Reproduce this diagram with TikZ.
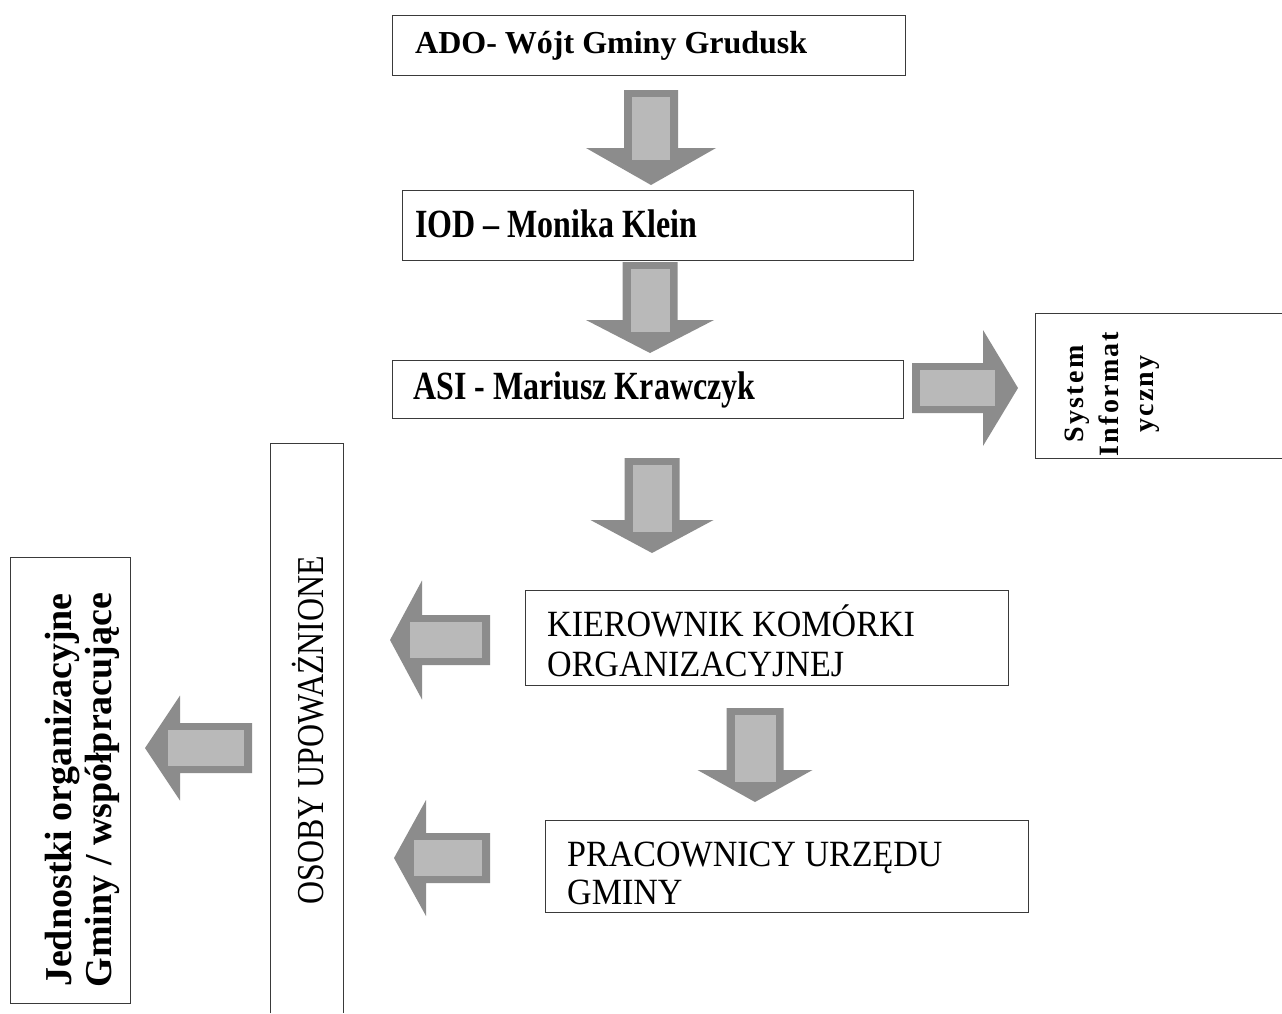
\documentclass[tikz,border=0pt]{standalone}
\usepackage{fontspec}
\setmainfont{Liberation Serif}
\newfontfamily\condbold[FakeStretch=0.8]{Liberation Serif Bold}
\newfontfamily\condreg[FakeStretch=0.92]{Liberation Serif}
\newfontfamily\condosoby[FakeStretch=0.84]{Liberation Serif}
\newfontfamily\spacedbold[LetterSpace=8]{Liberation Serif Bold}
\definecolor{arrdark}{HTML}{8C8C8C}
\definecolor{arrlight}{HTML}{B9B9B9}
\definecolor{boxline}{HTML}{3A3A3A}
\newcommand\arrdown[6]{% cx, shaftw, top, headstart, headw, tip
  \fill[arrdark] ({#1-#2/2},#3) -- ({#1+#2/2},#3) -- ({#1+#2/2},#4) -- ({#1+#5/2},#4) -- (#1,#6) -- ({#1-#5/2},#4) -- ({#1-#2/2},#4) -- cycle;
  \fill[arrlight] ({#1-#2/2+8},{#3+7}) rectangle ({#1+#2/2-8},{#4+12});}
\newcommand\arrleft[6]{% cy, shaftw, right, headstart, headw, tipx
  \fill[arrdark] (#3,{#1-#2/2}) -- (#4,{#1-#2/2}) -- (#4,{#1-#5/2}) -- (#6,#1) -- (#4,{#1+#5/2}) -- (#4,{#1+#2/2}) -- (#3,{#1+#2/2}) -- cycle;
  \fill[arrlight] ({#4-12},{#1-#2/2+7}) rectangle ({#3-8},{#1+#2/2-7});}
\newcommand\arrright[6]{% cy, shaftw, left, headstart, headw, tipx
  \fill[arrdark] (#3,{#1-#2/2}) -- (#4,{#1-#2/2}) -- (#4,{#1-#5/2}) -- (#6,#1) -- (#4,{#1+#5/2}) -- (#4,{#1+#2/2}) -- (#3,{#1+#2/2}) -- cycle;
  \fill[arrlight] ({#3+8},{#1-#2/2+7}) rectangle ({#4+12},{#1+#2/2-7});}
\begin{document}
\begin{tikzpicture}[x=1pt,y=-1pt,
  box/.style={draw=boxline, line width=1pt, fill=white, inner sep=0pt, anchor=north west},
  sides/.style={draw=boxline, line width=1pt},
  txt/.style={inner sep=0pt, anchor=west, align=left},
  vtext/.style={rotate=90, align=center, inner sep=0pt}]
\useasboundingbox[fill=white] (0,0) rectangle (1282,1013);

% boxes
\node[box, minimum width=513pt, minimum height=60pt] (ado) at (392,15) {};
\node[txt, font=\fontsize{32}{38}\selectfont\bfseries] (adotxt) at (415,46) {ADO- Wójt Gminy Grudusk};
\node[box, minimum width=511pt, minimum height=70pt] (iod) at (402,190) {};
\node[txt, font=\fontsize{40}{44}\selectfont\condbold] (iodtxt) at (415,224) {IOD – Monika Klein};
\node[box, minimum width=511pt, minimum height=58pt] (asi) at (392,360) {};
\node[txt, font=\fontsize{40}{44}\selectfont\condbold] (asitxt) at (413,390) {ASI - Mariusz Krawczyk};
\node[box, minimum width=483pt, minimum height=95pt] (kier) at (525,590) {};
\node[txt, font=\fontsize{37}{40}\selectfont\condreg] (kiertxt) at (547,641) {KIEROWNIK KOMÓRKI\\ORGANIZACYJNEJ};
\node[box, minimum width=483pt, minimum height=92pt] (prac) at (545,820) {};
\node[txt, font=\fontsize{37}{38}\selectfont\condreg] (practxt) at (567,873) {PRACOWNICY URZĘDU\\GMINY};

% open boxes cut by the edge
\node[inner sep=0pt, minimum width=247pt, minimum height=145pt, anchor=north west] (sys) at (1035,313) {};
\draw[sides] (sys.north east) -- (sys.north west) -- (sys.south west) -- (sys.south east);
\node[vtext, font=\fontsize{28}{35}\selectfont\spacedbold] (systxt) at (1112,394) {System\\Informat\\yczny};

\node[inner sep=0pt, minimum width=73pt, minimum height=570pt, anchor=north west] (osoby) at (270,443) {};
\draw[sides] (osoby.south west) -- (osoby.north west) -- (osoby.north east) -- (osoby.south east);
\node[vtext, font=\fontsize{38}{40}\selectfont\condosoby] (osobytxt) at (308,730) {OSOBY UPOWAŻNIONE};

\node[box, minimum width=120pt, minimum height=446pt] (jedn) at (10,557) {};
\node[vtext, font=\fontsize{38}{40}\selectfont\bfseries] (jedntxt) at (82,790) {Jednostki organizacyjne\\Gminy / współpracujące};

% block arrows (connectors)
\coordinate (a1) at (651,185);
\arrdown{651}{54}{90}{148}{130}{185}
\coordinate (a2) at (650,353);
\arrdown{650}{55}{262}{320}{128}{353}
\coordinate (ar) at (1018,390);
\arrright{388}{50}{912}{983}{116}{1018}
\coordinate (a3) at (652,553);
\arrdown{652}{55}{458}{520}{123}{553}
\coordinate (ak) at (390,642);
\arrleft{640}{50}{490}{422}{119}{390}
\coordinate (a4) at (755,802);
\arrdown{755}{57}{708}{770}{115}{802}
\coordinate (ap) at (394,860);
\arrleft{858}{50}{490}{426}{116}{394}
\coordinate (aj) at (145,748);
\arrleft{748}{50}{252}{180}{105}{145}
\end{tikzpicture}
\end{document}
